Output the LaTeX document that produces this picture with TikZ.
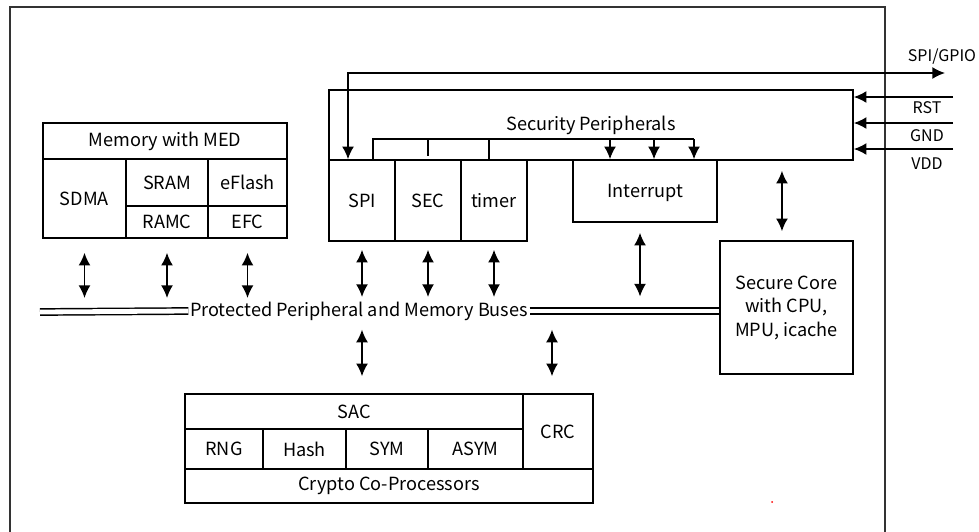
\documentclass[tikz,border=0pt]{standalone}
\usepackage{fontspec}
\setmainfont{Noto Sans CJK SC}
\usetikzlibrary{arrows.meta}

\begin{document}
\begin{tikzpicture}[x=0.75pt, y=-0.75pt, font=\fontsize{13.6}{17.6}\selectfont,
          >={Latex[length=9.5pt, width=9pt]},
          cell/.style 2 args={draw, line width=1.2pt, inner sep=0pt, align=center,
            minimum width=#1*0.75pt, minimum height=#2*0.75pt},
          arr/.style={->, line width=1.2pt},
          darr/.style={<->, line width=1.2pt},
          bus/.style={double, line width=1.1pt, double distance=3.6pt},
          pin/.style={font=\fontsize{12}{13}\selectfont, inner sep=0pt}]
        \useasboundingbox (0,0) rectangle (979,532);
        \draw[line width=1.6pt, black!80] (10,532) |- (885,7) -- (885,532);
        % memory
        \node[cell={244}{36}] (med) at (165,141) {Memory with MED};
        \node[cell={83}{79}] (sdma) at (84.5,198.5) {SDMA};
        \node[cell={82}{47}] (sram) at (167,182.5) {SRAM};
        \node[cell={79}{47}] (eflash) at (247.5,182.5) {eFlash};
        \node[cell={82}{32}] (ramc) at (167,222) {RAMC};
        \node[cell={79}{32}] (efc) at (247.5,222) {EFC};
        % security peripherals
        \node[cell={524}{70}] (secp) at (591,125) {Security Peripherals};
        \node[cell={66}{81}] (spi) at (362,200.5) {SPI};
        \node[cell={66}{81}] (sec) at (428,200.5) {SEC};
        \node[cell={66}{81}] (timer) at (494,200.5) {timer};
        \node[cell={144}{62}, text depth=-2pt] (irq) at (645,191) {Interrupt};
        \node[cell={133}{133}] (core) at (786.5,307.5) {Secure Core\\with CPU,\\MPU, icache};
        % crypto
        \node[cell={338}{35}] (sac) at (354,411.5) {SAC};
        \node[cell={78}{40}] (rng) at (224,449) {RNG};
        \node[cell={83}{40}] (hash) at (304.5,449) {Hash};
        \node[cell={82}{40}] (sym) at (387,449) {SYM};
        \node[cell={95}{40}] (asym) at (475.5,449) {ASYM};
        \node[cell={70}{75}] (crc) at (558,431.5) {CRC};
        \node[cell={408}{34}] (cop) at (389,486) {Crypto Co-Processors};
        % bus
        \node[inner sep=1pt] (bus) at (359,311) {Protected Peripheral and Memory Buses};
        \coordinate (busL) at (40,312);
        \draw[bus] (busL) -- (bus.west);
        \draw[bus] (bus.east) -- (bus.east -| core.west);
        \foreach \n in {sdma,ramc,efc}
          \draw[darr] ([yshift=-10.5pt]\n.south) -- ([yshift=10.5pt]\n.south |- busL);
        \foreach \n in {spi,sec,timer}
          \draw[darr] ([yshift=-6pt]\n.south) -- ([yshift=10.5pt]\n.south |- bus.west);
        \draw[darr] ([yshift=-14pt]spi.south |- bus.west) -- ([yshift=12.75pt]spi.south |- sac.north);
        \draw[darr] ([xshift=-4.5pt, yshift=-14pt]bus.east -| crc.north) -- ([xshift=-4.5pt, yshift=12.75pt]crc.north);
        \draw[darr] ([xshift=-3.75pt, yshift=-7.5pt]irq.south) -- ([xshift=-3.75pt, yshift=8.25pt]irq.south |- core.west);
        \draw[darr] ([xshift=-3.4pt, yshift=-7.5pt]secp.south -| core.north) -- ([xshift=-3.4pt, yshift=6.75pt]core.north);
        % internal bracket
        \coordinate (bl) at (373,139);
        \coordinate (br) at (694,139);
        \draw[line width=1.2pt] (bl |- spi.north) -- (bl) -- (br);
        \draw[line width=1.2pt] (428,139) -- (428,156);
        \draw[line width=1.2pt] (489,139) -- (489,139 |- timer.north);
        \foreach \x in {610,654,694}
          \draw[arr] (\x,139) -- (\x,139 |- irq.north);
        % pins
        \coordinate (gpio) at (945,73);
        \draw[darr] ([xshift=-10.5pt]spi.north) |- (gpio);
        \node[pin] (gpiol) at (942,57) {SPI/GPIO};
        \coordinate (rst) at (953,97);
        \coordinate (gnd) at (953,123);
        \coordinate (vdd) at (953,149);
        \foreach \p in {rst,gnd,vdd}
          \draw[arr] (\p) -- (\p -| secp.east);
        \node[pin] (rstl) at (927,108) {RST};
        \node[pin] (gndl) at (927,136) {GND};
        \node[pin] (vddl) at (927,164) {VDD};
        \fill[red] (772,502) circle (1);
      \end{tikzpicture}
\end{document}
